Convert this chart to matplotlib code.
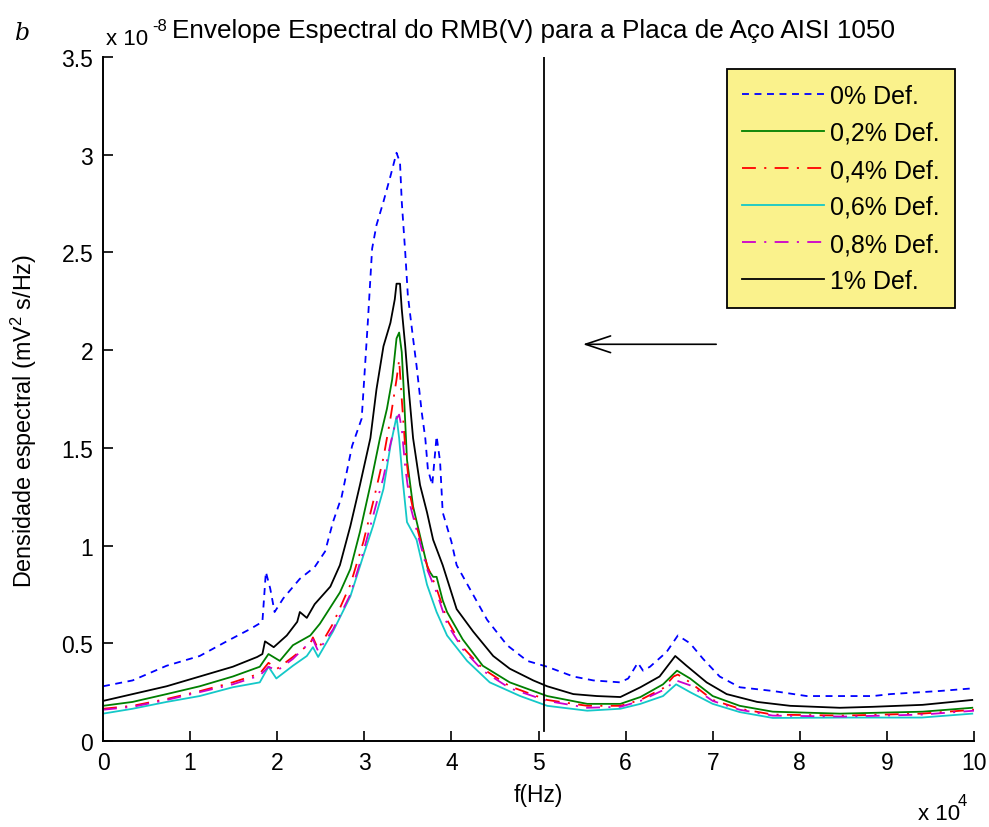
import matplotlib
matplotlib.use("Agg")
import matplotlib.pyplot as plt
from matplotlib import font_manager

names = {f.name for f in font_manager.fontManager.ttflist}
FONT = "Liberation Sans" if "Liberation Sans" in names else "DejaVu Sans"
plt.rcParams["font.family"] = [FONT, "DejaVu Sans"]
plt.rcParams["mathtext.fontset"] = "custom"
plt.rcParams["mathtext.rm"] = FONT
plt.rcParams["lines.scale_dashes"] = False

# ---------------- data (x in units of 1e4 Hz, y in units of 1e-8) ----------------
labels = ["0% Def.", "0,2% Def.", "0,4% Def.", "0,6% Def.", "0,8% Def.", "1% Def."]

f_00 = [0, 0.34, 0.73, 1.11, 1.42, 1.69, 1.83, 1.87, 1.92, 1.97, 2.07, 2.26, 2.43, 2.55, 2.64,
        2.74, 2.86, 2.97, 3.04, 3.09, 3.14, 3.22, 3.30, 3.37, 3.41, 3.43, 3.47, 3.50, 3.56, 3.60,
        3.66, 3.70, 3.73, 3.78, 3.83, 3.87, 3.90, 4.00, 4.06, 4.21, 4.41, 4.64, 4.87, 5.10, 5.40,
        5.63, 5.94, 6.03, 6.14, 6.20, 6.28, 6.47, 6.60, 6.74, 6.89, 7.08, 7.31, 7.69, 8.08, 8.84,
        9.04, 9.61, 10.0]
s_00 = [0.28, 0.31, 0.385, 0.435, 0.51, 0.573, 0.61, 0.865, 0.78, 0.66, 0.73, 0.83, 0.89, 0.97, 1.12,
        1.25, 1.51, 1.65, 2.14, 2.52, 2.64, 2.76, 2.89, 3.01, 2.96, 2.76, 2.50, 2.28, 2.06, 1.92,
        1.68, 1.55, 1.39, 1.31, 1.56, 1.43, 1.17, 1.02, 0.90, 0.78, 0.62, 0.49, 0.41, 0.38, 0.33,
        0.31, 0.30, 0.32, 0.40, 0.36, 0.38, 0.455, 0.54, 0.50, 0.42, 0.33, 0.275, 0.256, 0.23, 0.23,
        0.24, 0.256, 0.27]

f_02 = [0, 0.34, 0.73, 1.11, 1.49, 1.80, 1.90, 2.03, 2.18, 2.38, 2.49, 2.72, 2.84, 2.95, 3.07,
        3.18, 3.26, 3.32, 3.37, 3.40, 3.43, 3.45, 3.49, 3.56, 3.64, 3.73, 3.79, 3.83, 3.90, 3.95,
        4.13, 4.36, 4.67, 5.10, 5.56, 5.94, 6.17, 6.43, 6.59, 6.74, 7.00, 7.31, 7.69, 8.46, 9.41, 9.98]
s_02 = [0.18, 0.20, 0.24, 0.28, 0.33, 0.38, 0.445, 0.41, 0.49, 0.54, 0.60, 0.76, 0.88, 1.07, 1.31,
        1.55, 1.70, 1.85, 2.06, 2.09, 1.99, 1.82, 1.44, 1.20, 1.05, 0.88, 0.84, 0.84, 0.72, 0.66,
        0.52, 0.385, 0.30, 0.23, 0.19, 0.19, 0.225, 0.29, 0.36, 0.32, 0.23, 0.18, 0.15, 0.14, 0.15, 0.17]

f_04 = [0, 0.34, 0.73, 1.11, 1.49, 1.80, 1.90, 2.00, 2.18, 2.38, 2.41, 2.47, 2.64, 2.84, 2.99,
        3.10, 3.22, 3.30, 3.37, 3.40, 3.43, 3.47, 3.53, 3.60, 3.72, 3.83, 3.95, 4.13, 4.36, 4.67,
        5.10, 5.56, 5.94, 6.17, 6.43, 6.55, 6.60, 6.74, 7.00, 7.31, 7.69, 8.50, 9.40, 10.0]
s_04 = [0.165, 0.18, 0.215, 0.255, 0.30, 0.345, 0.40, 0.37, 0.43, 0.50, 0.53, 0.47, 0.60, 0.80, 1.02,
        1.22, 1.45, 1.65, 1.85, 1.95, 1.75, 1.50, 1.25, 1.10, 0.90, 0.78, 0.62, 0.48, 0.37, 0.28,
        0.21, 0.18, 0.18, 0.21, 0.27, 0.33, 0.34, 0.30, 0.21, 0.165, 0.135, 0.13, 0.14, 0.16]

f_06 = [0, 0.34, 0.73, 1.11, 1.49, 1.80, 1.90, 1.99, 2.18, 2.34, 2.41, 2.47, 2.64, 2.84, 2.99,
        3.10, 3.22, 3.30, 3.37, 3.40, 3.44, 3.49, 3.60, 3.72, 3.83, 3.95, 4.18, 4.44, 4.79, 5.10,
        5.56, 5.94, 6.17, 6.43, 6.58, 6.74, 7.00, 7.31, 7.69, 8.50, 9.40, 9.98]
s_06 = [0.14, 0.165, 0.20, 0.23, 0.275, 0.30, 0.38, 0.32, 0.385, 0.435, 0.48, 0.43, 0.56, 0.74, 0.95,
        1.10, 1.29, 1.51, 1.66, 1.55, 1.34, 1.12, 1.03, 0.80, 0.66, 0.54, 0.41, 0.30, 0.23, 0.18,
        0.155, 0.165, 0.19, 0.23, 0.29, 0.25, 0.19, 0.148, 0.118, 0.12, 0.12, 0.14]

f_08 = [0, 0.34, 0.73, 1.11, 1.49, 1.80, 1.90, 2.00, 2.18, 2.41, 2.47, 2.64, 2.84, 2.99, 3.10,
        3.22, 3.30, 3.37, 3.40, 3.43, 3.47, 3.53, 3.60, 3.72, 3.83, 3.95, 4.13, 4.36, 4.67, 5.10,
        5.56, 5.94, 6.17, 6.43, 6.58, 6.74, 7.00, 7.31, 7.69, 8.50, 9.40, 10.0]
s_08 = [0.16, 0.175, 0.21, 0.25, 0.29, 0.335, 0.38, 0.36, 0.42, 0.52, 0.46, 0.57, 0.75, 0.97, 1.15,
        1.35, 1.52, 1.65, 1.67, 1.60, 1.40, 1.20, 1.08, 0.88, 0.76, 0.60, 0.47, 0.36, 0.27, 0.205,
        0.17, 0.175, 0.205, 0.26, 0.31, 0.285, 0.205, 0.16, 0.13, 0.125, 0.135, 0.155]

f_10 = [0, 0.34, 0.73, 1.11, 1.49, 1.77, 1.83, 1.86, 1.96, 2.11, 2.23, 2.26, 2.34, 2.43, 2.61,
        2.72, 2.84, 2.95, 3.07, 3.14, 3.22, 3.30, 3.35, 3.37, 3.41, 3.43, 3.47, 3.50, 3.56, 3.64,
        3.72, 3.79, 3.90, 4.06, 4.25, 4.48, 4.67, 4.94, 5.10, 5.40, 5.67, 5.94, 6.17, 6.39, 6.57,
        6.70, 6.93, 7.16, 7.51, 7.89, 8.46, 8.84, 9.41, 9.98]
s_10 = [0.205, 0.24, 0.28, 0.33, 0.38, 0.43, 0.445, 0.51, 0.48, 0.54, 0.61, 0.66, 0.63, 0.70, 0.79,
        0.90, 1.10, 1.31, 1.55, 1.80, 2.02, 2.14, 2.26, 2.34, 2.34, 2.21, 2.02, 1.85, 1.55, 1.31,
        1.17, 1.03, 0.90, 0.675, 0.56, 0.435, 0.37, 0.31, 0.28, 0.24, 0.23, 0.225, 0.275, 0.33, 0.435,
        0.385, 0.30, 0.24, 0.20, 0.18, 0.17, 0.175, 0.185, 0.21]

x_ticks = [0, 1, 2, 3, 4, 5, 6, 7, 8, 9, 10]
x_ticklabels = ["0", "1", "2", "3", "4", "5", "6", "7", "8", "9", "10"]
y_ticks = [0, 0.5, 1, 1.5, 2, 2.5, 3, 3.5]
y_ticklabels = ["0", "0.5", "1", "1.5", "2", "2.5", "3", "3.5"]

vline_x = 5.06
vline_y = [0.05, 3.5]
arrow_start = (7.04, 2.03)
arrow_end = (5.51, 2.03)

# ---------------- figure ----------------
W, H = 989, 828
fig = plt.figure(figsize=(W / 100, H / 100), dpi=100, facecolor="white")
ax = fig.add_axes([103 / W, (H - 742) / H, 871 / W, 684 / H])

dashdot = (0, (10, 6, 1.5, 6))
series = [
    (f_00, s_00, "#0000FF", (0, (5, 4))),
    (f_02, s_02, "#007F00", "-"),
    (f_04, s_04, "#FF0000", dashdot),
    (f_06, s_06, "#14C8C8", "-"),
    (f_08, s_08, "#CC00CC", dashdot),
    (f_10, s_10, "#000000", "-"),
]
for (fx, sy, col, ls), lab in zip(series, labels):
    ax.plot(fx, sy, color=col, linestyle=ls, lw=1.3, label=lab)

ax.plot([vline_x, vline_x], vline_y, color="black", lw=1.3)
ax.annotate("", xy=arrow_end, xytext=arrow_start,
            arrowprops=dict(arrowstyle="->,head_length=0.9,head_width=0.3",
                            color="black", lw=1.2, mutation_scale=20, shrinkA=0, shrinkB=0))

ax.set_xlim(0, 10)
ax.set_ylim(0, 3.5)
ax.set_xticks(x_ticks)
ax.set_xticklabels(x_ticklabels)
ax.set_yticks(y_ticks)
ax.set_yticklabels(y_ticklabels)
ax.tick_params(direction="in", length=7, width=1.2, labelsize=16.5, pad=7, colors="black")
for side in ["top", "right"]:
    ax.spines[side].set_visible(False)
for side in ["left", "bottom"]:
    ax.spines[side].set_linewidth(1.4)

ax.set_xlabel("f(Hz)", fontsize=16.5)
ax.xaxis.set_label_coords(0.5, -0.062)
ax.set_ylabel(r"Densidade espectral (mV$^{\mathregular{2}}$ s/Hz)", fontsize=16.8)
ax.yaxis.set_label_coords(-0.074, 0.47)

leg = ax.legend(loc="upper right", bbox_to_anchor=((955 - 103) / 871, (742 - 70) / 684),
                borderaxespad=0, fontsize=18, frameon=True, fancybox=False,
                handlelength=3.3, handletextpad=0.25, labelspacing=0.52, borderpad=0.6)
fr = leg.get_frame()
fr.set_facecolor("#FAF28C")
fr.set_edgecolor("black")
fr.set_linewidth(1.3)
fr.set_alpha(1)

# texts around the axes
fig.text(15 / W, 1 - 33 / H, "b", fontsize=17, style="italic", ha="left", va="center",
         family=["DejaVu Serif"])
fig.text(106 / W, 1 - 45 / H, "x 10", fontsize=16, ha="left", va="baseline")
fig.text(152 / W, 1 - 31 / H, "-8", fontsize=12, ha="left", va="baseline")
fig.text(172 / W, 1 - 38 / H, "Envelope Espectral do RMB(V) para a Placa de Aço AISI 1050",
         fontsize=18.8, ha="left", va="baseline")
fig.text(918 / W, 1 - 820 / H, "x 10", fontsize=16, ha="left", va="baseline")
fig.text(958 / W, 1 - 806 / H, "4", fontsize=12, ha="left", va="baseline")

fig.savefig("out.png", dpi=100, facecolor="white")
